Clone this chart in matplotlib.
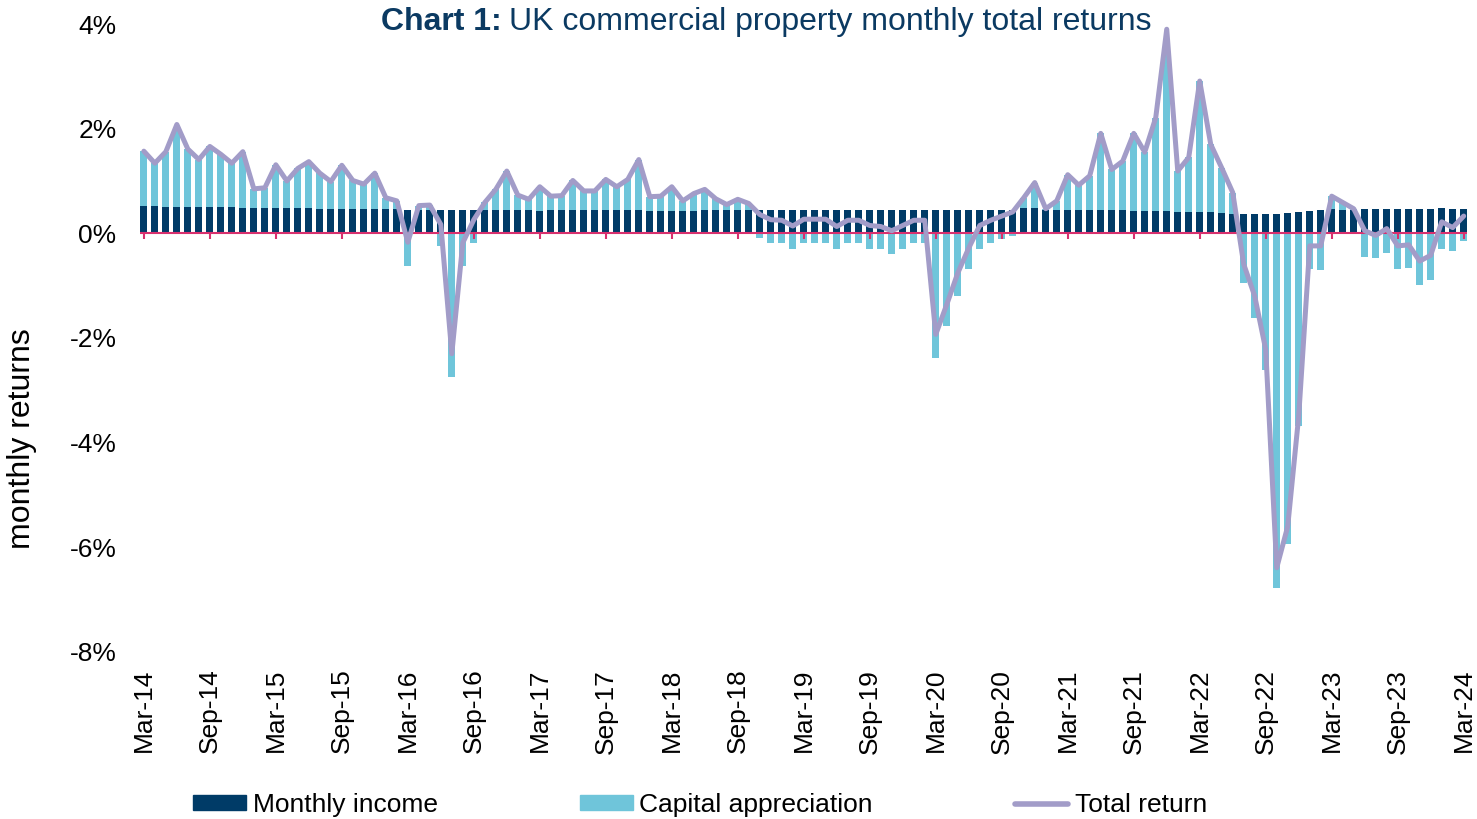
import numpy as np
import matplotlib
matplotlib.use("Agg")
import matplotlib.pyplot as plt
from matplotlib.patches import Patch
from matplotlib.lines import Line2D

plt.rcParams['font.family'] = ['Liberation Sans', 'DejaVu Sans']

# monthly data, Mar-14 .. Mar-24 (% per month)
income = [0.52, 0.52, 0.51, 0.51,
          0.51, 0.51, 0.50, 0.50, 0.50,
          0.49, 0.49, 0.49, 0.48, 0.48, 0.48, 0.48,
          0.47, 0.47, 0.47, 0.46, 0.46, 0.46, 0.46, 0.46,
          0.45, 0.45, 0.45, 0.44,
          0.44, 0.44, 0.45, 0.45, 0.45, 0.45, 0.45, 0.45,
          0.42, 0.44, 0.44, 0.44, 0.44, 0.44, 0.44, 0.44, 0.44, 0.44, 0.43, 0.43,
          0.43, 0.43, 0.43, 0.44, 0.44, 0.44, 0.44, 0.44,
          0.44, 0.44, 0.44, 0.44, 0.44, 0.44, 0.44, 0.44,
          0.44, 0.44, 0.44, 0.44, 0.44, 0.44, 0.44, 0.44,
          0.45, 0.45, 0.45, 0.45, 0.45, 0.45, 0.45, 0.45,
          0.49, 0.48, 0.45, 0.45, 0.45, 0.45, 0.45, 0.45, 0.44, 0.44,
          0.43, 0.43, 0.42, 0.42, 0.41, 0.41, 0.40, 0.40, 0.39, 0.37,
          0.36, 0.36, 0.37, 0.37, 0.39, 0.40, 0.43, 0.45, 0.46, 0.45, 0.45,
          0.46, 0.46, 0.46, 0.46, 0.46, 0.46, 0.47, 0.48, 0.47, 0.47]

capital = [1.05, 0.82, 1.05, 1.50, 1.10, 0.90, 1.16, 1.01, 0.84, 1.07,
           0.36, 0.38, 0.83, 0.52, 0.76, 0.89, 0.68, 0.52, 0.83, 0.55,
           0.48, 0.69, 0.22, 0.16, -0.62, 0.08, 0.09, -0.25, -2.74, -0.62,
           -0.19, 0.14, 0.39, 0.74, 0.28, 0.20, 0.47, 0.27, 0.28, 0.57,
           0.37, 0.37, 0.59, 0.45, 0.59, 0.97, 0.27, 0.28, 0.46, 0.19,
           0.33, 0.40, 0.22, 0.11, 0.21, 0.13, -0.08, -0.19, -0.19, -0.29,
           -0.19, -0.19, -0.19, -0.29, -0.19, -0.19, -0.29, -0.29, -0.39, -0.29,
           -0.19, -0.19, -2.38, -1.78, -1.19, -0.69, -0.29, -0.19, -0.11, -0.05,
           0.19, 0.49, 0.02, 0.17, 0.67, 0.47, 0.65, 1.46, 0.78, 0.94,
           1.48, 1.12, 1.79, 3.00, 0.78, 1.04, 2.51, 1.30, 0.86, 0.41,
           -0.94, -1.61, -2.61, -6.77, -5.93, -3.68, -0.69, -0.70, 0.25, 0.14,
           0.02, -0.45, -0.48, -0.37, -0.69, -0.67, -0.99, -0.89, -0.29, -0.33,
           -0.15]

total = [1.57, 1.34, 1.56, 2.08, 1.61, 1.41, 1.66, 1.51, 1.34, 1.56,
         0.85, 0.87, 1.31, 1.00, 1.24, 1.37, 1.15, 0.99, 1.30, 1.01,
         0.94, 1.15, 0.68, 0.62, -0.17, 0.53, 0.54, 0.17, -2.30, -0.18,
         0.26, 0.59, 0.84, 1.19, 0.73, 0.65, 0.89, 0.71, 0.72, 1.01,
         0.81, 0.81, 1.03, 0.89, 1.03, 1.41, 0.70, 0.71, 0.89, 0.62,
         0.76, 0.84, 0.66, 0.55, 0.65, 0.57, 0.36, 0.26, 0.25, 0.14,
         0.27, 0.27, 0.27, 0.13, 0.25, 0.25, 0.15, 0.13, 0.05, 0.15,
         0.25, 0.25, -1.93, -1.36, -0.76, -0.28, 0.15, 0.25, 0.33, 0.41,
         0.68, 0.97, 0.47, 0.62, 1.12, 0.92, 1.10, 1.91, 1.22, 1.38,
         1.91, 1.55, 2.21, 3.90, 1.19, 1.45, 2.91, 1.70, 1.25, 0.78,
         -0.59, -1.20, -2.22, -6.39, -5.60, -3.49, -0.24, -0.24, 0.71, 0.59,
         0.47, 0.05, -0.04, 0.09, -0.24, -0.22, -0.53, -0.42, 0.22, 0.11,
         0.33]

tick_labels = ['Mar-14', 'Sep-14', 'Mar-15', 'Sep-15', 'Mar-16', 'Sep-16',
               'Mar-17', 'Sep-17', 'Mar-18', 'Sep-18', 'Mar-19', 'Sep-19',
               'Mar-20', 'Sep-20', 'Mar-21', 'Sep-21', 'Mar-22', 'Sep-22',
               'Mar-23', 'Sep-23', 'Mar-24']

navy = '#003B67'
light = '#6FC5DA'
lavender = '#A29CC8'
pink = '#D8306E'
title_col = '#0B3A62'

income = np.array(income)
capital = np.array(capital)
x = np.arange(len(total))
ticks = np.arange(0, len(total), 6)

fig = plt.figure(figsize=(14.77, 8.19), dpi=100)
ax = fig.add_axes([140 / 1477, 1 - 652 / 819, (1467 - 140) / 1477, (652 - 24) / 819])

ax.bar(x, income, width=0.64, color=navy, zorder=2)
# negative capital values hang below zero, positive ones stack on income
cap_bottom = np.where(capital >= 0, income, 0)
ax.bar(x, capital, bottom=cap_bottom, width=0.64, color=light, zorder=2)
ax.axhline(0, color=pink, lw=1.5, zorder=2.5)
ax.vlines(ticks, -0.11, 0, color=pink, lw=1.5, zorder=2.5)
ax.plot(x, total, color=lavender, lw=3.6, solid_joinstyle='round',
        solid_capstyle='round', zorder=3)

ax.set_xlim(-0.35, 120.3)
ax.set_ylim(-8, 4)
ax.set_yticks(range(-8, 5, 2))
ax.set_yticklabels([f'{v}%' for v in range(-8, 5, 2)], fontsize=19)
ax.set_xticks(ticks)
ax.set_xticklabels(tick_labels, rotation=90, fontsize=19)
ax.tick_params(axis='both', length=0)
ax.tick_params(axis='y', pad=17)
ax.tick_params(axis='x', pad=12)
for s in ax.spines.values():
    s.set_visible(False)

fig.text(22 / 1477, 1 - 439 / 819, 'monthly returns', rotation=90,
         fontsize=23, ha='center', va='center')

# title: bold prefix + regular rest
t1 = fig.text(381 / 1477, 1 - 22 / 819, 'Chart 1:', fontsize=23,
              fontweight='bold', color=title_col, ha='left', va='center')
fig.canvas.draw()
bb = t1.get_window_extent()
fig.text((bb.x1 + 7) / 1477, 1 - 22 / 819, 'UK commercial property monthly total returns',
         fontsize=23, color=title_col, ha='left', va='center')

handles = [Patch(color=navy), Patch(color=light),
           Line2D([0], [0], color=lavender, lw=4, solid_capstyle='round')]
fig.legend(handles, ['Monthly income', 'Capital appreciation', 'Total return'],
           loc='center', bbox_to_anchor=(0.474, 1 - 805 / 819), ncol=3,
           frameon=False, fontsize=19, handlelength=2.0, handleheight=0.5,
           handletextpad=0.25, columnspacing=5.4)

fig.savefig('out.png', dpi=100)
